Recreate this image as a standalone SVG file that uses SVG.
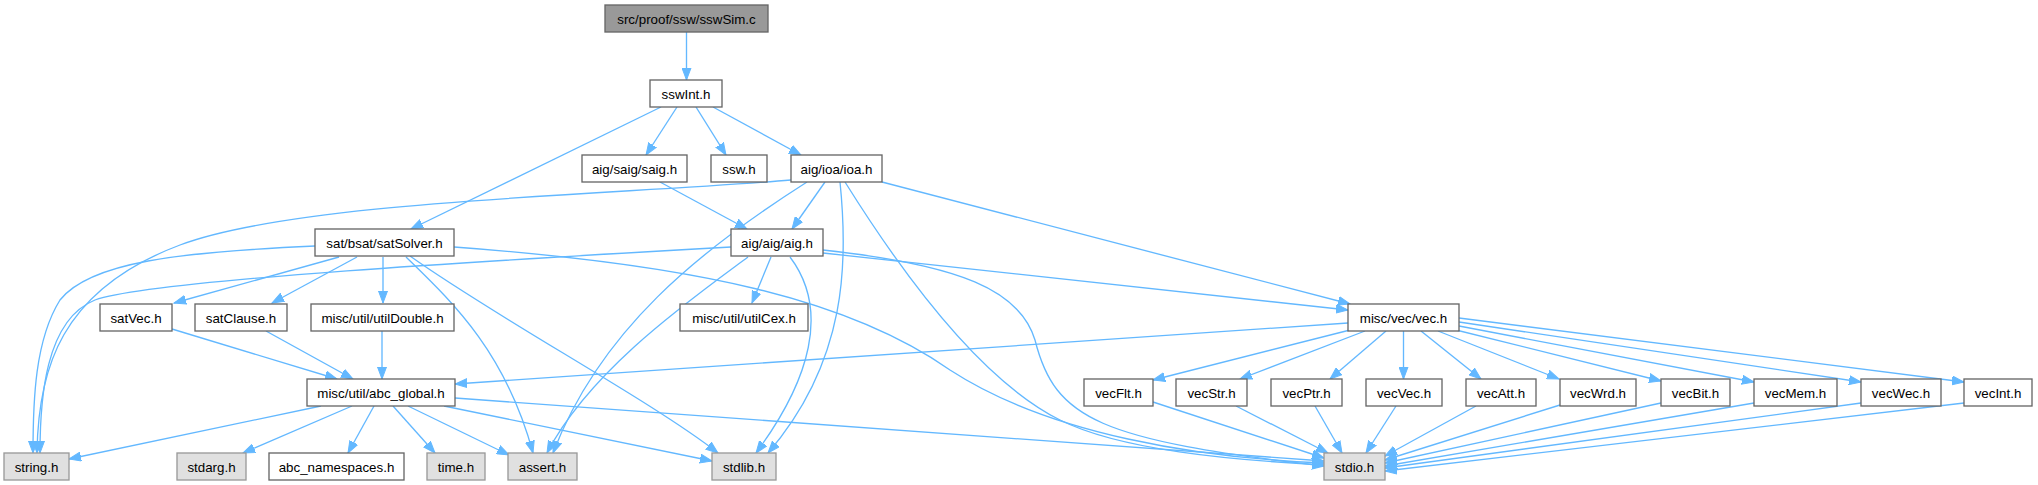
<svg xmlns="http://www.w3.org/2000/svg" width="2038" height="485" viewBox="0 0 2038 485">
<style>
.n rect{fill:#ffffff;stroke:#666666;stroke-width:1.33}
.r rect{fill:#999999;stroke:#666666;stroke-width:1.33}
.s rect{fill:#e0e0e0;stroke:#999999;stroke-width:1.33}
text{font-family:"Liberation Sans",Arial,Helvetica,sans-serif;font-size:13.33px;fill:#000000;text-anchor:middle}
#edges path{fill:none;stroke:#63b8ff;stroke-width:1.33;marker-end:url(#arr)}
</style>
<defs>
<marker id="arr" markerWidth="13" markerHeight="10" refX="12" refY="5" orient="auto" markerUnits="userSpaceOnUse">
<path d="M0,0.5 L12,5 L0,9.5 z" fill="#63b8ff" stroke="#63b8ff" stroke-width="1"/>
</marker>
</defs>
<rect width="2038" height="485" fill="#ffffff"/>
<g id="edges">
<path d="M686.5,32 L686.5,80"/>
<path d="M661,107 L411,229"/>
<path d="M677,107 L646,155"/>
<path d="M696,107 L726,155"/>
<path d="M713,107 L801,155"/>
<path d="M660,182 L747,229"/>
<path d="M791,180 C620,195 300,200 180,245 C60,290 38,370 37,453"/>
<path d="M807,182 C700,250 600,330 553,453"/>
<path d="M825,182 L792,229"/>
<path d="M840,182 C848,260 848,360 768,453"/>
<path d="M845,182 C900,270 980,380 1060,420 C1120,450 1230,460 1324,465"/>
<path d="M882,182 L1350,304"/>
<path d="M731,247 C500,260 150,280 95,300 C45,320 40,400 40,453"/>
<path d="M748,257 C690,300 590,370 547,453"/>
<path d="M771,257 L752,303"/>
<path d="M790,257 C830,310 810,380 756,453"/>
<path d="M823,250 C960,265 1020,290 1035,340 C1055,420 1100,440 1324,466"/>
<path d="M823,253 L1348,310"/>
<path d="M315,246 C180,252 90,262 60,300 C35,340 33,400 33,453"/>
<path d="M339,257 L174,303"/>
<path d="M357,257 L272,303"/>
<path d="M383,257 L383,303"/>
<path d="M406,257 C450,300 505,350 533,453"/>
<path d="M410,256 C500,320 650,400 718,453"/>
<path d="M454,247 C700,265 850,300 950,370 C1050,435 1200,458 1324,463"/>
<path d="M172,329 L337,379"/>
<path d="M266,331 L353,379"/>
<path d="M382,331 L382,379"/>
<path d="M1348,323 L455,384"/>
<path d="M321,406 L69,459"/>
<path d="M352,406 L243,453"/>
<path d="M374,406 L348,453"/>
<path d="M393,406 L435,453"/>
<path d="M408,406 L509,455"/>
<path d="M444,406 L712,461"/>
<path d="M455,398 L1324,461"/>
<path d="M1350,330 L1153,380"/>
<path d="M1365,331 L1240,379"/>
<path d="M1386,331 L1330,379"/>
<path d="M1403.5,331 L1403.5,379"/>
<path d="M1421,331 L1481,379"/>
<path d="M1438,331 L1559,379"/>
<path d="M1456,330 L1661,381"/>
<path d="M1459,326 L1754,382"/>
<path d="M1459,322 L1861,382"/>
<path d="M1459,318 L1964,382"/>
<path d="M1153,402 L1324,458"/>
<path d="M1236,406 L1328,453"/>
<path d="M1315,406 L1342,453"/>
<path d="M1396,406 L1366,453"/>
<path d="M1476,406 L1385,456"/>
<path d="M1560,405 L1385,460"/>
<path d="M1661,403 L1385,463"/>
<path d="M1754,403 L1385,466"/>
<path d="M1861,403 L1385,468"/>
<path d="M1964,403 L1385,471"/>
</g>
<g id="n_src" class="r"><rect x="605" y="5" width="163" height="27"/><text x="686.5" y="23.5">src/proof/ssw/sswSim.c</text></g>
<g id="n_sswInt" class="n"><rect x="650" y="80" width="72" height="27"/><text x="686" y="98.5">sswInt.h</text></g>
<g id="n_saig" class="n"><rect x="582" y="155" width="105" height="27"/><text x="634.5" y="173.5">aig/saig/saig.h</text></g>
<g id="n_ssw" class="n"><rect x="711" y="155" width="56" height="27"/><text x="739" y="173.5">ssw.h</text></g>
<g id="n_ioa" class="n"><rect x="791" y="155" width="91" height="27"/><text x="836.5" y="173.5">aig/ioa/ioa.h</text></g>
<g id="n_satSolver" class="n"><rect x="315" y="229" width="139" height="27"/><text x="384.5" y="247.5">sat/bsat/satSolver.h</text></g>
<g id="n_aig" class="n"><rect x="731" y="229" width="92" height="27"/><text x="777" y="247.5">aig/aig/aig.h</text></g>
<g id="n_satVec" class="n"><rect x="100" y="304" width="72" height="27"/><text x="136" y="322.5">satVec.h</text></g>
<g id="n_satClause" class="n"><rect x="195" y="304" width="92" height="27"/><text x="241" y="322.5">satClause.h</text></g>
<g id="n_utilDouble" class="n"><rect x="311" y="304" width="143" height="27"/><text x="382.5" y="322.5">misc/util/utilDouble.h</text></g>
<g id="n_utilCex" class="n"><rect x="680" y="304" width="128" height="27"/><text x="744" y="322.5">misc/util/utilCex.h</text></g>
<g id="n_vec" class="n"><rect x="1348" y="304" width="111" height="27"/><text x="1403.5" y="322.5">misc/vec/vec.h</text></g>
<g id="n_abc_global" class="n"><rect x="307" y="379" width="148" height="27"/><text x="381" y="397.5">misc/util/abc_global.h</text></g>
<g id="n_vecFlt" class="n"><rect x="1084" y="379" width="69" height="27"/><text x="1118.5" y="397.5">vecFlt.h</text></g>
<g id="n_vecStr" class="n"><rect x="1176" y="379" width="71" height="27"/><text x="1211.5" y="397.5">vecStr.h</text></g>
<g id="n_vecPtr" class="n"><rect x="1271" y="379" width="71" height="27"/><text x="1306.5" y="397.5">vecPtr.h</text></g>
<g id="n_vecVec" class="n"><rect x="1366" y="379" width="76" height="27"/><text x="1404" y="397.5">vecVec.h</text></g>
<g id="n_vecAtt" class="n"><rect x="1466" y="379" width="70" height="27"/><text x="1501" y="397.5">vecAtt.h</text></g>
<g id="n_vecWrd" class="n"><rect x="1560" y="379" width="76" height="27"/><text x="1598" y="397.5">vecWrd.h</text></g>
<g id="n_vecBit" class="n"><rect x="1661" y="379" width="69" height="27"/><text x="1695.5" y="397.5">vecBit.h</text></g>
<g id="n_vecMem" class="n"><rect x="1754" y="379" width="83" height="27"/><text x="1795.5" y="397.5">vecMem.h</text></g>
<g id="n_vecWec" class="n"><rect x="1861" y="379" width="80" height="27"/><text x="1901" y="397.5">vecWec.h</text></g>
<g id="n_vecInt" class="n"><rect x="1964" y="379" width="68" height="27"/><text x="1998" y="397.5">vecInt.h</text></g>
<g id="n_string" class="s"><rect x="4" y="453" width="65" height="27"/><text x="36.5" y="471.5">string.h</text></g>
<g id="n_stdarg" class="s"><rect x="177" y="453" width="69" height="27"/><text x="211.5" y="471.5">stdarg.h</text></g>
<g id="n_abc_namespaces" class="n"><rect x="269" y="453" width="135" height="27"/><text x="336.5" y="471.5">abc_namespaces.h</text></g>
<g id="n_time" class="s"><rect x="427" y="453" width="58" height="27"/><text x="456" y="471.5">time.h</text></g>
<g id="n_assert" class="s"><rect x="508" y="453" width="69" height="27"/><text x="542.5" y="471.5">assert.h</text></g>
<g id="n_stdlib" class="s"><rect x="712" y="453" width="64" height="27"/><text x="744" y="471.5">stdlib.h</text></g>
<g id="n_stdio" class="s"><rect x="1324" y="453" width="61" height="27"/><text x="1354.5" y="471.5">stdio.h</text></g>
</svg>
